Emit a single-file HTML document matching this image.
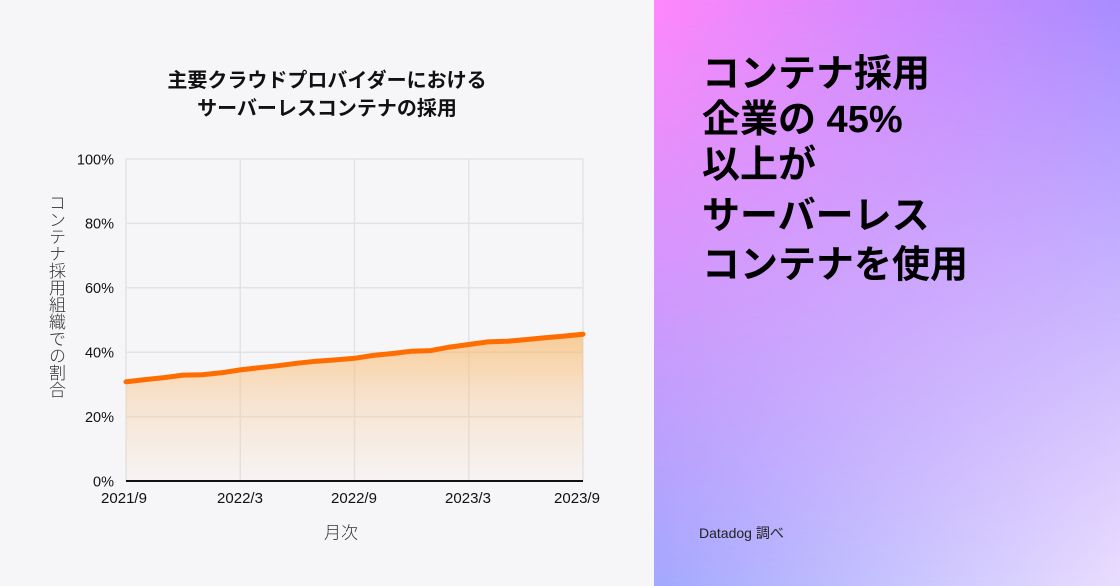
<!DOCTYPE html>
<html>
<head>
<meta charset="utf-8">
<style>
  html,body{margin:0;padding:0;}
  body{width:1120px;height:586px;overflow:hidden;position:relative;background:#f6f6f8;
       font-family:"Liberation Sans","Noto Sans CJK JP",sans-serif;}
  #right{position:absolute;left:654px;top:0;width:466px;height:586px;
         background:linear-gradient(to right,#ff87fb 0%,#a98cff 100%);}
  #right .bot{position:absolute;left:0;top:0;width:100%;height:100%;
         background:linear-gradient(to right,#a3a8fe 0%,#e9ddfe 100%);
         -webkit-mask-image:linear-gradient(to bottom,rgba(0,0,0,0) 0%,rgba(0,0,0,1) 100%);
         mask-image:linear-gradient(to bottom,rgba(0,0,0,0) 0%,rgba(0,0,0,1) 100%);}
  #ytitle{position:absolute;left:46px;top:194px;writing-mode:vertical-rl;text-orientation:upright;
          font-family:"Liberation Sans","Noto Sans CJK JP",sans-serif;font-size:17px;font-weight:300;
          color:#333;line-height:18px;}
  svg{position:absolute;left:0;top:0;}
</style>
</head>
<body>
<div id="right"><div class="bot"></div></div>
<div id="ytitle">コンテナ採用組織での割合</div>
<svg width="1120" height="586" viewBox="0 0 1120 586" xmlns="http://www.w3.org/2000/svg">
  <defs>
    <linearGradient id="fill" x1="0" y1="334" x2="0" y2="481" gradientUnits="userSpaceOnUse">
      <stop offset="0" stop-color="#f9b868" stop-opacity="0.68"/>
      <stop offset="0.5" stop-color="#f9c48c" stop-opacity="0.35"/>
      <stop offset="1" stop-color="#f9c896" stop-opacity="0.05"/>
    </linearGradient>
  </defs>

  <!-- Title -->
  <g font-family="Liberation Sans, Noto Sans CJK JP, sans-serif" font-weight="bold" font-size="20" fill="#111" text-anchor="middle">
    <text x="327" y="87">主要クラウドプロバイダーにおける</text>
    <text x="327" y="115">サーバーレスコンテナの採用</text>
  </g>

  <!-- grid -->
  <g stroke="#e3e3e7" stroke-width="1.5" fill="none">
    <line x1="126" y1="159" x2="583" y2="159"/>
    <line x1="126" y1="223.4" x2="583" y2="223.4"/>
    <line x1="126" y1="287.8" x2="583" y2="287.8"/>
    <line x1="126" y1="352.2" x2="583" y2="352.2"/>
    <line x1="126" y1="416.6" x2="583" y2="416.6"/>
    <line x1="126" y1="159" x2="126" y2="481"/>
    <line x1="240.3" y1="159" x2="240.3" y2="481"/>
    <line x1="354.5" y1="159" x2="354.5" y2="481"/>
    <line x1="468.8" y1="159" x2="468.8" y2="481"/>
    <line x1="583" y1="159" x2="583" y2="481"/>
  </g>

  <!-- area -->
  <path fill="url(#fill)" d="M126,381.8 L145,379.6 L164.1,377.6 L183.1,375.1 L202.2,374.7 L221.2,372.8 L240.3,369.9 L259.3,367.7 L278.3,365.7 L297.4,363.2 L316.4,361.2 L335.5,359.9 L354.5,358.3 L373.5,355.4 L392.6,353.5 L411.6,351.2 L430.7,350.6 L449.7,347.1 L468.8,344.5 L487.8,341.9 L506.8,341.3 L525.9,339.6 L544.9,337.7 L564,336.1 L583,334.2 L583,481 L126,481 Z"/>

  <!-- axis -->
  <line x1="126" y1="481" x2="583" y2="481" stroke="#111" stroke-width="2"/>

  <!-- line -->
  <polyline fill="none" stroke="#ff6d00" stroke-width="5" stroke-linejoin="round" stroke-linecap="round"
    points="126,381.8 145,379.6 164.1,377.6 183.1,375.1 202.2,374.7 221.2,372.8 240.3,369.9 259.3,367.7 278.3,365.7 297.4,363.2 316.4,361.2 335.5,359.9 354.5,358.3 373.5,355.4 392.6,353.5 411.6,351.2 430.7,350.6 449.7,347.1 468.8,344.5 487.8,341.9 506.8,341.3 525.9,339.6 544.9,337.7 564,336.1 583,334.2"/>

  <!-- y ticks -->
  <g font-family="Liberation Sans, Noto Sans CJK JP, sans-serif" font-size="14.5" fill="#111" text-anchor="end">
    <text x="114" y="164.3">100%</text>
    <text x="114" y="228.7">80%</text>
    <text x="114" y="293.1">60%</text>
    <text x="114" y="357.5">40%</text>
    <text x="114" y="421.9">20%</text>
    <text x="114" y="486.3">0%</text>
  </g>

  <!-- x ticks -->
  <g font-family="Liberation Sans, Noto Sans CJK JP, sans-serif" font-size="15" fill="#111" text-anchor="middle">
    <text x="124" y="503">2021/9</text>
    <text x="240" y="503">2022/3</text>
    <text x="354" y="503">2022/9</text>
    <text x="468" y="503">2023/3</text>
    <text x="577" y="503">2023/9</text>
  </g>

  <!-- x title -->
  <text x="341" y="538.5" font-family="Liberation Sans, Noto Sans CJK JP, sans-serif" font-size="17" font-weight="300" fill="#333" text-anchor="middle">月次</text>

  <!-- right big text -->
  <g font-family="Liberation Sans, Noto Sans CJK JP, sans-serif" font-weight="bold" font-size="38" fill="#000">
    <text x="702" y="86.5">コンテナ採用</text>
    <text x="702" y="132">企業の 45%</text>
    <text x="702" y="177.5">以上が</text>
    <text x="702" y="228.5">サーバーレス</text>
    <text x="702" y="277.5">コンテナを使用</text>
  </g>

  <text x="699" y="538" font-family="Liberation Sans, Noto Sans CJK JP, sans-serif" font-size="14" fill="#222">Datadog 調べ</text>
</svg>
</body>
</html>
